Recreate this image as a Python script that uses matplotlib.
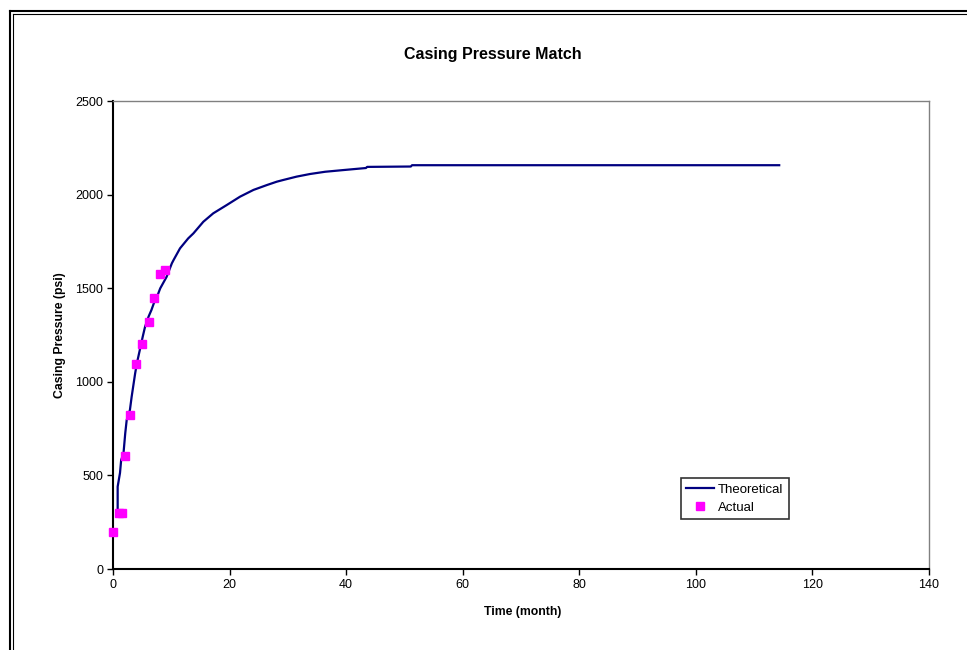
import matplotlib
matplotlib.use("Agg")
import matplotlib.pyplot as plt
from matplotlib.lines import Line2D

plt.rcParams['font.family'] = ['Liberation Sans', 'DejaVu Sans']

# theoretical curve
theo_t = [0.8, 0.8, 1.2, 1.4, 1.8, 2.1, 2.35, 2.9, 3.2, 3.8, 4.1, 4.6, 5.1, 5.5,
          6.1, 6.6, 7.0, 7.5, 8.1, 9.2, 10.1, 10.4, 11.5, 12.9, 13.8, 15.5, 17.2,
          19.5, 21.8, 24.1, 26.4, 28.1, 29.2, 31.5, 33.8, 36.4, 39.5, 43.4, 43.6,
          51.1, 51.3, 61.2, 114.3]
theo_p = [300, 440, 513, 582, 618, 725, 796, 849, 920, 1045, 1099, 1170, 1241, 1294,
          1348, 1384, 1419, 1450, 1499, 1561, 1633, 1651, 1713, 1766, 1793, 1855, 1900,
          1944, 1989, 2025, 2051, 2069, 2078, 2096, 2110, 2122, 2131, 2142, 2148,
          2150, 2157, 2157, 2157]

# measured points
act_t = [0, 1, 1.5, 2, 3, 4, 5, 6.1, 7.1, 8, 9]
act_p = [195, 300, 300, 604, 825, 1095, 1200, 1318, 1445, 1575, 1598]

fig = plt.figure(figsize=(9.67, 6.5), dpi=100)
ax = fig.add_axes([113/967, 1-569/650, (929-113)/967, (569-101)/650])

ax.plot(theo_t, theo_p, color='#000080', lw=1.6, label='Theoretical')
ax.plot(act_t, act_p, ls='none', marker='s', ms=6, color='#FF00FF',
        mec='#FF00FF', label='Actual', clip_on=False, zorder=3)

ax.set_xlim(0, 140)
ax.set_ylim(0, 2500)
ax.set_xticks(range(0, 141, 20))
ax.set_yticks(range(0, 2501, 500))
ax.tick_params(direction='out', length=4, width=1, labelsize=9, color='black', pad=3)

ax.spines['left'].set_linewidth(1.5)
ax.spines['bottom'].set_linewidth(1.5)
ax.spines['top'].set_color('#808080')
ax.spines['right'].set_color('#808080')
ax.spines['top'].set_linewidth(1)
ax.spines['right'].set_linewidth(1)

fig.text(493/967, 1-55/650, 'Casing Pressure Match', ha='center', va='center',
         fontsize=11.5, fontweight='bold')
fig.text(60/967, 1-335/650, 'Casing Pressure (psi)', ha='center', va='center',
         rotation=90, fontsize=8.8, fontweight='bold')
fig.text(523/967, 1-612/650, 'Time (month)', ha='center', va='center',
         fontsize=8.8, fontweight='bold')

leg = ax.legend(loc='upper left', bbox_to_anchor=((681-113)/816, (569-478)/468),
                fontsize=9.5, frameon=True, fancybox=False, borderpad=0.4,
                handlelength=2.1, handletextpad=0.3, labelspacing=0.45,
                borderaxespad=0)
leg.get_frame().set_edgecolor('black')
leg.get_frame().set_linewidth(1.2)

# double border round the chart
W, H = 967, 650
fig.add_artist(Line2D([10/W, 10/W], [0, 1-10.5/H], color='black', lw=1.5,
                      transform=fig.transFigure))
fig.add_artist(Line2D([13/W, 13/W], [0, 1-13.5/H], color='black', lw=0.8,
                      transform=fig.transFigure))
fig.add_artist(Line2D([10/W, 1], [1-10.5/H, 1-10.5/H], color='black', lw=1.5,
                      transform=fig.transFigure))
fig.add_artist(Line2D([13/W, 1], [1-13.5/H, 1-13.5/H], color='black', lw=0.8,
                      transform=fig.transFigure))

fig.savefig('out.png', dpi=100)
